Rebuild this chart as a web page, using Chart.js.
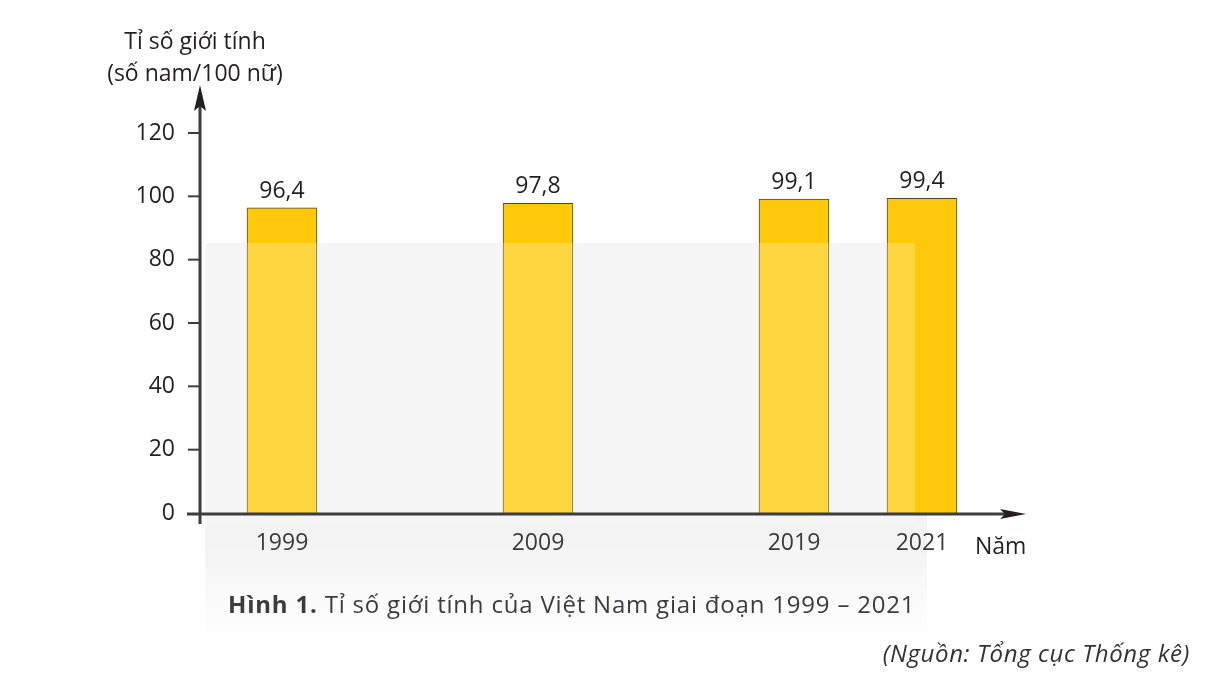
<!DOCTYPE html>
<html>
<head>
<meta charset="utf-8">
<script src="https://cdn.jsdelivr.net/npm/chart.js@4/dist/chart.umd.min.js"></script>
<style>
  body { margin: 0; background: #fff; }
  #wrap { position: relative; width: 1207px; height: 676px; font-family: "Open Sans", "Noto Sans", sans-serif; color: #231f20; }
  #c { position: absolute; left: 0; top: 0; }
  .t { position: absolute; white-space: nowrap; }
  #ytitle { left: 95px; top: 24px; width: 200px; text-align: center; font-size: 23px; line-height: 32px; }
  #xtitle { left: 975px; top: 529px; font-size: 23px; }
  #caption { left: 228px; top: 587px; font-size: 24px; letter-spacing: 0.8px; color: #3c3c3e; }
  #caption b { font-weight: 700; }
  #source { right: 17px; top: 636px; font-size: 24px; letter-spacing: 0.6px; font-style: italic; color: #333; }
</style>
</head>
<body>
<div id="wrap">
  <canvas id="c" width="1207" height="676"></canvas>
  <div class="t" id="ytitle">Tỉ số giới tính<br>(số nam/100 nữ)</div>
  <div class="t" id="xtitle">Năm</div>
  <div class="t" id="caption"><b>Hình 1.</b> Tỉ số giới tính của Việt Nam giai đoạn 1999 – 2021</div>
  <div class="t" id="source">(Nguồn: Tổng cục Thống kê)</div>
</div>
<script>
// nam (co o trong de giu khoang cach nhu hinh goc)
const namLabels = ['1999', '', '2009', '', '2019', '2021'];
const tiSo = [96.4, null, 97.8, null, 99.1, 99.4];
const yTicks = [0, 20, 40, 60, 80, 100, 120];

const axisColor = '#3d3d3d';
const fontFamily = '"Open Sans", sans-serif';

// nen mo (watermark) phia sau cot
const nenMo = {
  id: 'nenMo',
  beforeDraw(chart) {
    const { ctx, chartArea } = chart;
    const g = ctx.createLinearGradient(0, 243, 0, 640);
    g.addColorStop(0, '#f3f3f3');
    g.addColorStop(0.75, '#f3f3f3');
    g.addColorStop(1, 'rgba(243,243,243,0)');
    ctx.save();
    ctx.fillStyle = g;
    ctx.fillRect(chartArea.left - 13, 243, 940 - chartArea.left, 397);
    ctx.restore();
  },
  afterDatasetsDraw(chart) {
    const { ctx, chartArea } = chart;
    ctx.save();
    ctx.fillStyle = 'rgba(255,255,255,0.22)';
    ctx.fillRect(chartArea.left - 13, 243, 710, 280);
    ctx.restore();
  }
};

// truc co mui ten + nhan gia tri
const trucVaNhan = {
  id: 'trucVaNhan',
  afterDatasetsDraw(chart) {
    const { ctx, chartArea, scales } = chart;
    const x0 = chartArea.left - 18;
    const y0 = scales.y.getPixelForValue(0) + 1;
    ctx.save();
    ctx.strokeStyle = axisColor;
    ctx.fillStyle = '#231f20';
    ctx.lineWidth = 3;
    // truc doc
    ctx.beginPath();
    ctx.moveTo(x0, y0 + 10);
    ctx.lineTo(x0, chartArea.top - 30);
    ctx.stroke();
    ctx.beginPath();
    ctx.moveTo(x0, chartArea.top - 48);
    ctx.lineTo(x0 - 6, chartArea.top - 22);
    ctx.lineTo(x0, chartArea.top - 27);
    ctx.lineTo(x0 + 6, chartArea.top - 22);
    ctx.closePath();
    ctx.fill();
    // vach chia
    ctx.lineWidth = 2;
    yTicks.forEach(v => {
      const y = scales.y.getPixelForValue(v);
      if (v === 0) return;
      ctx.beginPath();
      ctx.moveTo(x0 - 12, y);
      ctx.lineTo(x0, y);
      ctx.stroke();
    });
    // truc ngang
    ctx.lineWidth = 3;
    ctx.beginPath();
    ctx.moveTo(x0 - 13, y0);
    ctx.lineTo(chartArea.right + 22, y0);
    ctx.stroke();
    const tip = chartArea.right + 40;
    ctx.beginPath();
    ctx.moveTo(tip, y0);
    ctx.lineTo(tip - 26, y0 - 5);
    ctx.lineTo(tip - 21, y0);
    ctx.lineTo(tip - 26, y0 + 5);
    ctx.closePath();
    ctx.fill();
    // nhan gia tri tren cot
    ctx.font = '23px ' + fontFamily;
    ctx.textAlign = 'center';
    ctx.textBaseline = 'bottom';
    const meta = chart.getDatasetMeta(0);
    meta.data.forEach((bar, i) => {
      const v = tiSo[i];
      if (v == null) return;
      ctx.fillText(v.toFixed(1).replace('.', ','), bar.x, bar.y - 5);
    });
    ctx.restore();
  }
};

new Chart(document.getElementById('c'), {
  type: 'bar',
  data: {
    labels: namLabels,
    datasets: [{
      data: tiSo,
      backgroundColor: '#ffc90b',
      borderColor: '#4a4632',
      borderWidth: 1,
      barThickness: 70
    }]
  },
  options: {
    responsive: false,
    animation: false,
    layout: { padding: { left: 138, right: 221, top: 133, bottom: 103 } },
    plugins: { legend: { display: false }, tooltip: { enabled: false } },
    scales: {
      y: {
        min: 0, max: 120,
        afterFit: s => { s.width = 80; },
        afterBuildTicks: s => { s.ticks = yTicks.map(v => ({ value: v })); },
        grid: { display: false, drawTicks: false },
        border: { display: false },
        ticks: { padding: 43, color: '#231f20', font: { family: fontFamily, size: 23 } }
      },
      x: {
        afterFit: s => { s.height = 60; },
        grid: { display: false, drawTicks: false },
        border: { display: false },
        ticks: { padding: 17, autoSkip: false, maxRotation: 0, color: '#3a3a3a', font: { family: fontFamily, size: 23 } }
      }
    }
  },
  plugins: [nenMo, trucVaNhan]
});
</script>
</body>
</html>
